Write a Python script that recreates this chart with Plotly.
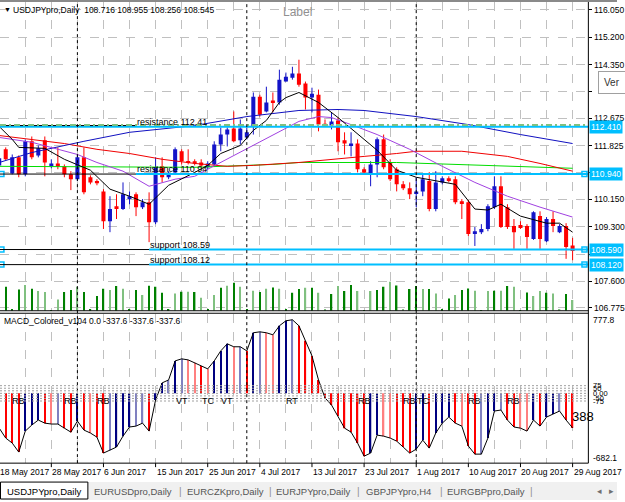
import plotly.graph_objects as go

FONT = "Liberation Sans, Arial, sans-serif"
W, H = 625, 502

# ---------------- data ----------------
bars = list(range(89))
opens = [111.21, 111.71, 110.96, 111.46, 110.93, 111.96, 111.52, 111.99, 111.21, 111.27,
         111.18, 110.93, 110.78, 111.46, 110.84, 110.72, 110.40, 109.47, 109.94, 109.85,
         110.19, 110.31, 109.91, 110.06, 109.44, 111.18, 110.84, 110.99, 111.65, 111.34,
         111.34, 111.30, 111.15, 111.24, 111.86, 112.17, 112.36, 111.99, 112.08, 112.42,
         113.35, 112.89, 113.23, 113.17, 113.82, 113.94, 114.07, 113.76, 113.32, 113.41,
         112.51, 112.45, 112.61, 111.99, 111.83, 111.89, 111.09, 110.93, 111.24, 112.02,
         111.30, 111.09, 110.62, 110.50, 110.34, 110.40, 110.72, 109.85, 110.68, 110.81,
         110.78, 110.09, 110.06, 109.07, 109.13, 109.23, 109.91, 110.56, 109.91, 109.32,
         109.35, 109.32, 108.92, 109.63, 108.85, 109.54, 109.13, 109.32, 108.716]
highs = [111.55, 111.77, 111.55, 111.52, 112.02, 112.11, 111.83, 112.11, 111.40, 111.77,
         111.24, 111.03, 111.55, 111.77, 110.90, 110.78, 110.47, 110.25, 110.31, 110.68,
         110.40, 110.37, 110.16, 110.37, 111.46, 111.46, 111.03, 111.77, 111.71, 111.71,
         111.40, 111.40, 111.34, 111.96, 112.39, 112.39, 112.89, 112.64, 112.39, 113.48,
         113.41, 113.66, 113.48, 114.19, 114.10, 114.28, 114.50, 113.82, 113.63, 113.57,
         112.64, 112.86, 112.70, 112.24, 112.24, 112.02, 111.15, 111.34, 112.08, 112.17,
         111.40, 111.15, 110.72, 110.68, 110.84, 110.93, 111.00, 111.03, 110.87, 110.87,
         110.87, 110.16, 110.13, 109.29, 109.38, 110.00, 110.87, 110.87, 110.00, 109.54,
         109.47, 109.38, 109.78, 109.78, 109.60, 109.78, 109.38, 109.41, 108.955]
lows = [111.15, 111.38, 110.93, 110.84, 110.87, 111.40, 111.46, 110.87, 111.12, 111.09,
        110.84, 110.44, 110.72, 110.31, 110.62, 110.59, 109.23, 109.13, 109.54, 109.82,
        110.00, 109.63, 109.85, 108.82, 109.38, 110.68, 110.78, 110.93, 111.24, 111.24,
        111.21, 111.15, 111.09, 111.18, 111.65, 111.80, 111.93, 111.86, 112.02, 112.17,
        112.73, 112.86, 112.86, 113.10, 113.82, 113.88, 113.66, 112.95, 112.86, 112.27,
        112.42, 112.33, 111.65, 111.55, 111.49, 110.99, 110.93, 110.56, 110.84, 111.09,
        110.72, 110.40, 110.44, 110.16, 109.91, 110.25, 109.78, 109.78, 110.62, 110.68,
        110.00, 109.54, 109.01, 108.70, 109.07, 109.16, 109.85, 109.26, 109.23, 108.61,
        109.23, 108.61, 108.89, 108.61, 108.82, 109.13, 109.10, 108.30, 108.256]
closes = [111.43, 111.40, 111.46, 110.93, 111.96, 111.46, 111.74, 111.30, 111.27, 111.18,
          110.93, 110.78, 111.46, 110.37, 110.68, 110.65, 109.47, 109.85, 109.88, 110.31,
          110.25, 109.91, 110.06, 109.44, 111.15, 110.84, 110.93, 111.71, 111.34, 111.30,
          111.27, 111.21, 111.27, 111.86, 112.17, 112.33, 111.96, 112.36, 112.24, 113.35,
          112.79, 113.17, 113.17, 113.88, 113.97, 114.07, 113.72, 113.32, 113.44, 112.48,
          112.45, 112.58, 111.93, 111.89, 111.89, 111.09, 110.99, 111.24, 112.02, 111.15,
          110.78, 110.62, 110.50, 110.31, 110.40, 110.78, 109.85, 110.68, 110.81, 110.72,
          110.06, 110.03, 109.07, 109.16, 109.23, 109.94, 110.56, 109.29, 109.29, 109.13,
          109.29, 108.98, 109.75, 108.92, 109.54, 109.32, 109.32, 108.67, 108.545]

tick_volume_k = [80, 96, 4, 85, 103, 88, 79, 75, 3, 45, 75, 83, 96, 75, 4, 59, 88, 83, 99, 88,
                 4, 83, 63, 100, 96, 72, 4, 69, 76, 76, 75, 52, 4, 63, 92, 100, 112, 96, 4, 80,
                 75, 88, 93, 88, 4, 72, 87, 92, 92, 72, 5, 67, 99, 79, 103, 79, 2, 79, 83, 96,
                 116, 101, 5, 87, 99, 87, 87, 69, 5, 49, 63, 83, 89, 80, 3, 79, 80, 80, 99, 96,
                 1, 73, 59, 79, 72, 69, 4, 67, 43]
volume_light = [0, 0, 0, 0, 1, 0, 1, 1, 0, 1, 0, 0, 1, 0, 0, 0, 0, 1, 0, 1,
                0, 0, 1, 0, 0, 0, 0, 1, 0, 1, 0, 1, 0, 1, 0, 1, 0, 1, 0, 1,
                0, 1, 0, 1, 0, 0, 0, 1, 0, 1, 1, 0, 1, 0, 0, 1, 0, 1, 0, 0,
                1, 0, 1, 0, 0, 1, 0, 1, 0, 0, 1, 0, 0, 1, 0, 1, 0, 1, 0, 1,
                0, 0, 1, 1, 0, 1, 1, 0, 1]

macd_values = [-340, -437, -486, -574, -369, -310, -261, -291, -300, -300,
               -340, -379, -271, -359, -388, -428, -584, -555, -525, -418,
               -329, -320, -291, -369, -65, 102, 131, 317, 337, 327,
               298, 268, 239, 317, 415, 484, 455, 455, 415, 592,
               601, 592, 572, 660, 709, 719, 660, 513, 366, 131,
               -45, -114, -222, -340, -379, -486, -614, -584, -408, -418,
               -437, -467, -525, -584, -545, -457, -535, -388, -291, -232,
               -291, -320, -515, -594, -594, -437, -173, -163, -261, -329,
               -340, -369, -261, -320, -232, -202, -173, -261, -337.6]

ma_black_bars = [0, 2, 3, 7, 10, 14, 17, 20, 23, 26, 30, 32, 34, 37, 39, 41, 43, 44, 46, 49,
                 52, 56, 58, 61, 64, 70, 73, 75, 77, 80, 84, 86, 88]
ma_black = [112.42, 112.02, 111.77, 111.74, 111.40, 111.06, 110.47, 110.25, 110.00, 110.59,
            110.99, 111.21, 111.58, 111.83, 112.30, 112.61, 113.17, 113.32, 113.48, 113.17,
            112.70, 112.02, 111.68, 111.06, 110.84, 110.62, 109.85, 109.82, 110.00, 109.63,
            109.41, 109.41, 109.13]
ma_purple_bars = [0, 5, 12, 15, 19, 23, 27, 30, 32, 37, 43, 46, 49, 51, 54, 58, 63, 68, 73, 78, 83, 88]
ma_purple = [112.08, 111.93, 111.55, 111.30, 111.03, 110.56, 110.78, 110.87, 111.09, 111.62,
             112.27, 112.58, 112.73, 112.70, 112.48, 112.17, 111.71, 111.18, 110.68, 110.25,
             109.91, 109.60]
ma_red_bars = [0, 5, 10, 15, 20, 25, 30, 35, 39, 46, 52, 56, 61, 64, 71, 78, 83, 88]
ma_red = [112.14, 112.02, 111.89, 111.71, 111.58, 111.40, 111.27, 111.18, 111.21, 111.30,
          111.40, 111.49, 111.58, 111.65, 111.65, 111.49, 111.27, 111.03]
ma_green_bars = [0, 18, 30, 42, 46, 61, 71, 81, 88]
ma_green = [111.18, 111.15, 111.15, 111.24, 111.30, 111.30, 111.24, 111.18, 111.12]
ma_blue_bars = [0, 5, 13, 20, 30, 38, 46, 52, 56, 64, 72, 80, 88]
ma_blue = [111.30, 111.61, 111.96, 112.24, 112.45, 112.73, 112.92, 112.95, 112.92, 112.73,
           112.48, 112.17, 111.89]

price_ticks = [116.05, 115.2, 114.35, 113.5, 112.675, 111.825, 110.975, 110.15, 109.3,
               108.45, 107.6, 106.775]
hidden_price_ticks = [113.5, 110.975, 108.45]   # covered by boxes in the original
level_prices = [112.41, 110.94, 108.59, 108.12]
level_names = ["resistance 112.41", "resistance 110.94", "support 108.59", "support 108.12"]
level_label_bar = [21, 21, 23, 23]
dashed_green_price = 112.47
macd_levels = [75, 50, 25, 0, -25, -50, -75]
macd_level_text = ["75", "50", "", "0.00", "", "-50", "-75"]
macd_min, macd_max = -682.1, 777.8
date_tick_bars = [0, 8, 16, 24, 32, 40, 48, 56, 64, 72, 80, 88]
date_tick_labels = ["18 May 2017", "28 May 2017", "6 Jun 2017", "15 Jun 2017", "25 Jun 2017",
                    "4 Jul 2017", "13 Jul 2017", "23 Jul 2017", "1 Aug 2017", "10 Aug 2017",
                    "20 Aug 2017", "29 Aug 2017"]
month_start_bars = [12, 38, 64]
pattern_bars = [3, 11, 16, 28, 32, 35, 45, 56, 63, 65, 73, 79]
pattern_labels = ["RB", "RB", "RB", "VT", "TC", "VT", "RT", "RB", "RB", "TC", "RB", "RB"]
tabs = ["USDJPYpro,Daily", "EURUSDpro,Daily", "EURCZKpro,Daily", "EURJPYpro,Daily",
        "GBPJPYpro,H4", "EURGBPpro,Daily"]

# ---------------- layout helpers ----------------
X0, X1 = 0.121, 90.42
PANE_R = 596
MAIN_TOP, MAIN_BOT = 2, 312
MACD_TOP, MACD_BOT = 315, 465


def px_x(x):
    return x / W


def px_y(y):
    return 1 - y / H


def bar_to_px(i):
    return (i - X0) / (X1 - X0) * PANE_R


BLUE = "#1414C8"
RED = "#FF0000"
CYAN = "#00BFFF"
GRID = "#C0C0C0"

fig = go.Figure()

# volume
vol_cols = ["#80C080" if l else "#008000" for l in volume_light]
fig.add_trace(go.Bar(x=bars, y=tick_volume_k, width=0.22, marker=dict(color=vol_cols, line=dict(width=0)),
                     xaxis="x", yaxis="y3", hoverinfo="skip"))

# candle wicks
up = [c >= o for o, c in zip(opens, closes)]
for flag, col in [(True, BLUE), (False, RED)]:
    xs, ys = [], []
    for i in bars:
        if up[i] == flag:
            xs += [i, i, None]
            ys += [lows[i], highs[i], None]
    fig.add_trace(go.Scatter(x=xs, y=ys, mode="lines", line=dict(color=col, width=1),
                             xaxis="x", yaxis="y", hoverinfo="skip"))
# candle bodies
body_base = [min(o, c) for o, c in zip(opens, closes)]
body_h = [max(abs(c - o), 0.035) for o, c in zip(opens, closes)]
fig.add_trace(go.Bar(x=bars, y=body_h, base=body_base, width=0.62,
                     marker=dict(color=[BLUE if u else RED for u in up], line=dict(width=0)),
                     xaxis="x", yaxis="y", hoverinfo="skip"))

# moving averages
for bx, vals, col in [(ma_green_bars, ma_green, "#00DD00"), (ma_red_bars, ma_red, "#F00000"),
                      (ma_blue_bars, ma_blue, "#1010C0"), (ma_purple_bars, ma_purple, "#A040E0"),
                      (ma_black_bars, ma_black, "#000000")]:
    fig.add_trace(go.Scatter(x=bx, y=vals, mode="lines", line=dict(color=col, width=1),
                             xaxis="x", yaxis="y", hoverinfo="skip"))

# level line handles
hx, hy = [], []
for p, has in zip(level_prices, [False, True, True, True]):
    if has:
        hx += [X0 + 0.22, X1 - 0.6]
        hy += [p, p]
fig.add_trace(go.Scatter(x=hx, y=hy, mode="markers",
                         marker=dict(symbol="square", size=5, color="white", line=dict(color=CYAN, width=1.5)),
                         xaxis="x", yaxis="y", hoverinfo="skip"))

# MACD histogram
hist_cols = []
for i, v in enumerate(macd_values):
    d = v - macd_values[i - 1] if i > 0 else 0
    if d >= 0:
        hist_cols.append("#000080" if d >= 30 else "#8080C0")
    else:
        hist_cols.append("#FF0000" if d <= -30 else "#FF8080")
fig.add_trace(go.Bar(x=bars, y=macd_values, width=0.2, marker=dict(color=hist_cols, line=dict(width=0)),
                     xaxis="x2", yaxis="y2", hoverinfo="skip"))
fig.add_trace(go.Scatter(x=bars, y=macd_values, mode="lines", line=dict(color="#000000", width=1),
                         xaxis="x2", yaxis="y2", hoverinfo="skip"))

shapes = []
annotations = []

# level lines
for p, name, lb, full in zip(level_prices, level_names, level_label_bar, [True, False, False, False]):
    shapes.append(dict(type="line", xref="x", yref="y", x0=(X0 if full else lb), x1=X1, y0=p, y1=p,
                       line=dict(color=CYAN, width=2)))
    shapes.append(dict(type="line", xref="x", yref="y", x0=X0, x1=lb, y0=p + (0.04 if full else 0.0),
                       y1=p + (0.04 if full else 0.0), line=dict(color="#000000", width=1)))
    annotations.append(dict(xref="x", yref="y", x=lb, y=p, xanchor="left", yanchor="bottom",
                            text=name, showarrow=False, font=dict(family=FONT, size=9, color="#000"),
                            borderpad=0, yshift=-1))
    annotations.append(dict(xref="paper", yref="y", x=px_x(597), y=p, xanchor="left", yanchor="middle",
                            text="%.3f" % p, showarrow=False, bgcolor=CYAN,
                            font=dict(family=FONT, size=8.5, color="white"), borderpad=1))
shapes.append(dict(type="line", xref="x", yref="y", x0=X0, x1=X1, y0=dashed_green_price, y1=dashed_green_price,
                   line=dict(color="#80C080", width=2, dash="6px,3px,2px,3px")))

# month separators
for b in month_start_bars:
    shapes.append(dict(type="line", xref="x", yref="paper", x0=b, x1=b, y0=px_y(MACD_BOT), y1=px_y(MAIN_TOP),
                       line=dict(color="#000000", width=1, dash="3px,3px")))

# MACD levels
for lv in macd_levels:
    shapes.append(dict(type="line", xref="x2", yref="y2", x0=X0, x1=X1, y0=lv, y1=lv,
                       line=dict(color="#A0A0A0", width=1, dash="2px,2px")))
for lv, t in zip(macd_levels, macd_level_text):
    if t:
        annotations.append(dict(xref="paper", yref="y2", x=px_x(599), y=lv, xanchor="left", yanchor="middle",
                                text=t, showarrow=False, font=dict(family=FONT, size=7.5, color="#000")))

# pane borders
shapes += [
    dict(type="rect", xref="paper", yref="paper", x0=0, x1=1, y0=px_y(2), y1=1,
         fillcolor="#8A8A8A", line=dict(width=0)),
    dict(type="line", xref="paper", yref="paper", x0=px_x(PANE_R), x1=px_x(PANE_R), y0=px_y(MACD_BOT),
         y1=px_y(MAIN_TOP), line=dict(color="#000", width=1)),
    dict(type="line", xref="paper", yref="paper", x0=0, x1=px_x(PANE_R), y0=px_y(MAIN_BOT), y1=px_y(MAIN_BOT),
         line=dict(color="#000", width=1)),
    dict(type="line", xref="paper", yref="paper", x0=0, x1=px_x(PANE_R), y0=px_y(MACD_TOP - 0.5),
         y1=px_y(MACD_TOP - 0.5), line=dict(color="#000", width=1)),
    dict(type="line", xref="paper", yref="paper", x0=0, x1=px_x(PANE_R), y0=px_y(MACD_BOT), y1=px_y(MACD_BOT),
         line=dict(color="#000", width=1)),
]
# time ticks + labels
for b, t in zip(date_tick_bars, date_tick_labels):
    xp = bar_to_px(b)
    shapes.append(dict(type="line", xref="paper", yref="paper", x0=px_x(xp), x1=px_x(xp),
                       y0=px_y(MACD_BOT + 4), y1=px_y(MACD_BOT), line=dict(color="#000", width=1)))
    annotations.append(dict(xref="paper", yref="paper", x=px_x(xp - 1), y=px_y(474), xanchor="left",
                            yanchor="middle", text=t, showarrow=False,
                            font=dict(family=FONT, size=8.5, color="#000")))

# pattern labels
for b, t in zip(pattern_bars, pattern_labels):
    annotations.append(dict(xref="x2", yref="y2", x=b, y=-70, xanchor="center", text=t, showarrow=False,
                            font=dict(family=FONT, size=9, color="#000")))

# text annotations
annotations += [
    dict(xref="paper", yref="paper", x=px_x(2), y=px_y(10), xanchor="left", yanchor="middle", text="▼",
         showarrow=False, font=dict(family=FONT, size=7, color="#000")),
    dict(xref="paper", yref="paper", x=px_x(11), y=px_y(10), xanchor="left", yanchor="middle",
         text="USDJPYpro,Daily  108.716 108.955 108.256 108.545", showarrow=False,
         font=dict(family=FONT, size=8.5, color="#000")),
    dict(xref="paper", yref="paper", x=px_x(301), y=px_y(12), xanchor="center", yanchor="middle",
         text="Label", showarrow=False, font=dict(family=FONT, size=12, color="#909090")),
    dict(xref="paper", yref="paper", x=px_x(2), y=px_y(322), xanchor="left", yanchor="middle",
         text="MACD_Colored_v104 0.0 -337.6 -337.6 -337.6", showarrow=False,
         font=dict(family=FONT, size=8.5, color="#000")),
    dict(xref="paper", yref="paper", x=px_x(599), y=px_y(321), xanchor="left", yanchor="middle",
         text="777.8", showarrow=False, font=dict(family=FONT, size=8.5, color="#000")),
    dict(xref="paper", yref="paper", x=px_x(599), y=px_y(460), xanchor="left", yanchor="middle",
         text="-682.1", showarrow=False, font=dict(family=FONT, size=8.5, color="#000")),
    dict(xref="paper", yref="paper", x=px_x(577), y=px_y(418), xanchor="left", yanchor="middle",
         text="388", showarrow=False, font=dict(family=FONT, size=13, color="#000")),
    dict(xref="paper", yref="paper", x=px_x(606), y=px_y(83), xanchor="left", yanchor="middle",
         text="Ver", showarrow=False, bgcolor="white", bordercolor="#A0A0A0", borderwidth=1, borderpad=5,
         font=dict(family=FONT, size=10, color="#333")),
]

# tab bar
shapes += [
    dict(type="rect", xref="paper", yref="paper", x0=0, x1=1, y0=0, y1=px_y(484),
         fillcolor="#F0F0F0", line=dict(width=0)),
    dict(type="rect", xref="paper", yref="paper", x0=px_x(0.5), x1=px_x(89), y0=px_y(501), y1=px_y(484),
         fillcolor="white", line=dict(color="#000", width=1)),
]
tab_centres = [45, 135, 228, 318, 404, 492]
for t, cx, k in zip(tabs, tab_centres, range(len(tabs))):
    annotations.append(dict(xref="paper", yref="paper", x=px_x(cx), y=px_y(493), xanchor="center",
                            yanchor="middle", text=t, showarrow=False,
                            font=dict(family=FONT, size=9.5, color="#000" if k == 0 else "#555")))
for sx in [183, 274, 363, 447, 538]:
    annotations.append(dict(xref="paper", yref="paper", x=px_x(sx), y=px_y(493), xanchor="center",
                            yanchor="middle", text="|", showarrow=False,
                            font=dict(family=FONT, size=10, color="#909090")))
annotations += [
    dict(xref="paper", yref="paper", x=px_x(607), y=px_y(493), xanchor="center", yanchor="middle", text="◂",
         showarrow=False, font=dict(family=FONT, size=9, color="#707070")),
    dict(xref="paper", yref="paper", x=px_x(619), y=px_y(493), xanchor="center", yanchor="middle", text="▸",
         showarrow=False, font=dict(family=FONT, size=9, color="#707070")),
]

xcommon = dict(range=[X0, X1], domain=[0, px_x(PANE_R)], showticklabels=False, tickmode="linear", tick0=0,
               dtick=4, showgrid=True, gridcolor=GRID, griddash="dash", gridwidth=1, zeroline=False,
               showline=False, ticks="", fixedrange=True)

fig.update_layout(
    width=W, height=H, margin=dict(l=0, r=0, t=0, b=0, pad=0),
    paper_bgcolor="white", plot_bgcolor="white", showlegend=False, barmode="overlay",
    xaxis=dict(anchor="y", **xcommon),
    xaxis2=dict(anchor="y2", matches="x", **xcommon),
    yaxis=dict(domain=[px_y(MAIN_BOT), px_y(MAIN_TOP)], range=[106.683, 116.298], side="right", anchor="x",
               tickmode="array", tickvals=price_ticks,
               ticktext=["" if v in hidden_price_ticks else "%.3f" % v for v in price_ticks],
               ticks="outside", ticklen=3, tickcolor="#000", tickfont=dict(family=FONT, size=8.5, color="#000"),
               showgrid=True, gridcolor=GRID, griddash="dash", zeroline=False, showline=False),
    yaxis3=dict(overlaying="y", range=[0, 1240], visible=False, anchor="x"),
    yaxis2=dict(domain=[px_y(MACD_BOT), px_y(MACD_TOP)], range=[macd_min, macd_max], side="right", anchor="x2",
                showticklabels=False, showgrid=False, zeroline=False, showline=False, ticks=""),
    shapes=shapes, annotations=annotations,
)

fig.write_html("out.html")
